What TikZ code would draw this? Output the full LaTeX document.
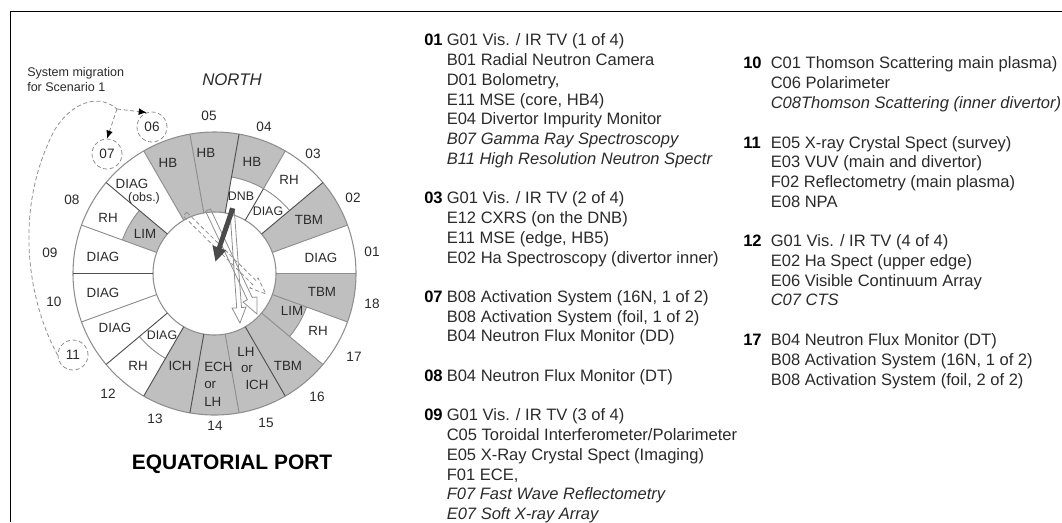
\documentclass[tikz,border=0pt]{standalone}
\usepackage{fontspec}
\setmainfont{Liberation Sans}
\usetikzlibrary{arrows.meta,calc}
\definecolor{portgrey}{HTML}{BFBFBF}
\definecolor{lineA}{HTML}{8E8E8E}
\definecolor{lineB}{HTML}{505050}
\definecolor{inktext}{HTML}{2A2A2A}
\definecolor{beamc}{HTML}{4A4A4A}
\tikzset{
  pxl/.style={x=0.75pt,y=-0.75pt},
  seclab/.style={text=inktext,inner sep=0pt,font=\fontsize{10}{12}\selectfont},
  seclabs/.style={text=inktext,inner sep=0pt,font=\fontsize{9.3}{11}\selectfont},
  numlab/.style={text=inktext,inner sep=0pt,font=\fontsize{10.2}{12}\selectfont},
  migc/.style={draw=lineA,line width=0.6pt,dash pattern=on 3pt off 2pt,circle,minimum size=22.5pt,inner sep=0pt,text=inktext,font=\fontsize{10.2}{12}\selectfont},
  migl/.style={draw=lineA,line width=0.6pt,dash pattern=on 3pt off 2pt},
  mign/.style={draw=lineA,line width=0.6pt,dash pattern=on 3pt off 2pt,-{Latex[length=6pt,width=5pt,black]}},
  listn/.style={anchor=base west,inner sep=0pt,text=black,font=\fontsize{12.4}{14}\selectfont\bfseries},
  listt/.style={anchor=base west,inner sep=0pt,text=inktext,font=\fontsize{12.4}{14}\selectfont},
  listi/.style={anchor=base west,inner sep=0pt,text=inktext,font=\fontsize{12.4}{14}\selectfont\itshape},
  spokeA/.style={draw=lineA,line width=0.7pt},
  spokeB/.style={draw=lineB,line width=0.7pt},
  ringc/.style={draw=lineA,line width=0.8pt},
  hollow/.style={draw=lineA,line width=0.6pt,line join=miter},
  hollowd/.style={draw=lineA,line width=0.6pt,dash pattern=on 3pt off 2pt},
}
\begin{document}
\begin{tikzpicture}[pxl]
\useasboundingbox (0,0) rectangle (1062,522);
\coordinate (ctr) at (214.5,273.5);
% frame
\draw[black,line width=1.4pt] (10.5,522) -- (10.5,11.5) -- (1062,11.5);
% grey sectors
\foreach \a/\b/\i/\o in {20/40/61.5/141.5,60/80/98/141.5,80/100/61.5/141.5,100/120/61.5/141.5,140/160/61.5/98,240/260/61.5/141.5,260/280/61.5/141.5,280/300/61.5/141.5,300/320/61.5/141.5,320/340/61.5/98,340/360/61.5/141.5}{
  \fill[portgrey] ($(ctr)+(\a:\o*0.75pt)$) arc[start angle=-\a,end angle=-\b,radius=\o] -- ($(ctr)+(\b:\i*0.75pt)$) arc[start angle=-\b,end angle=-\a,radius=\i] -- cycle;
}
% rings
\draw[ringc] (ctr) circle[radius=141.5];
\draw[ringc] (ctr) circle[radius=61.5];
% middle arcs
\foreach \a/\b in {40/80,140/160,220/240,320/340}{
  \draw[spokeA] ($(ctr)+(\a:98*0.75pt)$) arc[start angle=-\a,end angle=-\b,radius=98];
}
% full spokes, light and dark
\foreach \a in {0,20,100,120,160,200,280,320,340}{
  \draw[spokeA] ($(ctr)+(\a:61.5*0.75pt)$) -- ($(ctr)+(\a:141.5*0.75pt)$);
}
\foreach \a in {40,80,140,180,220,240,260,300}{
  \draw[spokeB] ($(ctr)+(\a:61.5*0.75pt)$) -- ($(ctr)+(\a:141.5*0.75pt)$);
}
% half spokes
\draw[spokeB] ($(ctr)+(60:61.5*0.75pt)$) -- ($(ctr)+(60:98*0.75pt)$);
\draw[spokeA] ($(ctr)+(60:98*0.75pt)$) -- ($(ctr)+(60:141.5*0.75pt)$);
% beams
\draw[hollowd] (186.8,212.2) -- (256.4,281) -- (258,278) -- (266,294) -- (250,288) -- (252.8,284.6) -- (183.2,215.8) -- cycle;
\draw[hollow] (210.4,208.9) -- (252.2,297.4) -- (257,297) -- (257,314) -- (243,302) -- (247.4,299.8) -- (205.6,211.2) -- cycle;
\draw[hollow] (229.8,209) -- (236.7,308) -- (232,308) -- (240,323) -- (246,307) -- (241.5,307.7) -- (234.2,209) -- cycle;
\fill[beamc] (230.3,207.5) -- (235.2,209) -- (221.5,248.5) -- (226,250.5) -- (215.5,261.5) -- (212.5,245.5) -- (217,247) -- cycle;
% sector labels
\node[seclab] (hb6) at (168,163) {HB};
\node[seclab] (hb5) at (206,153) {HB};
\node[seclab] (hb4) at (252,162) {HB};
\node[seclab] (rh3) at (289,180) {RH};
\node[seclabs] (dnb) at (241,196) {DNB};
\node[seclabs] (diag3) at (268,211) {DIAG};
\node[seclab] (tbm2) at (309,220) {TBM};
\node[seclab] (diag1) at (321,258) {DIAG};
\node[seclab] (tbm18) at (322,292) {TBM};
\node[seclab] (lim17) at (292,311) {LIM};
\node[seclab] (rh17) at (318,331) {RH};
\node[seclab] (tbm16) at (288,366) {TBM};
\node[seclab] (lh15) at (246,352) {LH};
\node[seclab] (or15) at (247,369) {or};
\node[seclab] (ich15) at (257,385) {ICH};
\node[seclab,anchor=west] (ech14) at (204,367) {ECH};
\node[seclab,anchor=west] (or14) at (204,385) {or};
\node[seclab,anchor=west] (lh14) at (204,402) {LH};
\node[seclab] (ich13) at (180,366) {ICH};
\node[seclab] (rh12) at (138,366) {RH};
\node[seclabs] (diag12) at (162,335) {DIAG};
\node[seclab] (diag11) at (115,328) {DIAG};
\node[seclab] (diag10) at (103,293) {DIAG};
\node[seclab] (diag9) at (103,257) {DIAG};
\node[seclab] (lim8) at (145,234) {LIM};
\node[seclab] (rh8) at (108,218) {RH};
\node[seclab] (diag7) at (132,184) {DIAG};
\node[seclabs] (obs7) at (144,198) {(obs.)};
% port numbers
\node[numlab] (p01) at (372,252) {01};
\node[numlab] (p02) at (353,198) {02};
\node[numlab] (p03) at (313,154) {03};
\node[numlab] (p04) at (264,127) {04};
\node[numlab] (p05) at (209,116) {05};
\node[numlab] (p08) at (72,200) {08};
\node[numlab] (p09) at (50,253) {09};
\node[numlab] (p10) at (54,302) {10};
\node[numlab] (p12) at (108,394) {12};
\node[numlab] (p13) at (155,419) {13};
\node[numlab] (p14) at (215,426) {14};
\node[numlab] (p15) at (266,423) {15};
\node[numlab] (p16) at (317,397) {16};
\node[numlab] (p17) at (354,357) {17};
\node[numlab] (p18) at (372,304) {18};
% migration
\node[migc] (n06) at (152,127) {06};
\node[migc] (n07) at (107,154) {07};
\node[migc] (n11) at (73,355) {11};
\coordinate (br) at (117,109);
\draw[migl] (n11.west) .. controls (30,305) and (12,215) .. (53,133) .. controls (66,108) and (95,90) .. (br);
\draw[mign] (br) -- (n06.110);
\draw[mign] (br) -- (n07.north);
\node[anchor=base west,inner sep=0pt,text=inktext,font=\fontsize{9.4}{11}\selectfont] (sm1) at (27,76) {System migration};
\node[anchor=base west,inner sep=0pt,text=inktext,font=\fontsize{9.4}{11}\selectfont] (sm2) at (27,91) {for Scenario 1};
\node[inner sep=0pt,text=inktext,font=\fontsize{12.6}{14}\selectfont\itshape] (north) at (232,80) {NORTH};
\node[inner sep=0pt,text=black,font=\fontsize{15.7}{18}\selectfont\bfseries] (eq) at (232,464) {EQUATORIAL PORT};
% list column 1
\node[listn] (l01) at (424,45) {01};
\node[listt] (a1) at (446.5,45) {G01 Vis. / IR TV (1 of 4)};
\node[listt] (a2) at (446.5,65) {B01 Radial Neutron Camera};
\node[listt] (a3) at (446.5,85) {D01 Bolometry,};
\node[listt] (a4) at (446.5,105) {E11 MSE (core, HB4)};
\node[listt] (a5) at (446.5,124) {E04 Divertor Impurity Monitor};
\node[listi] (a6) at (446.5,144) {B07 Gamma Ray Spectroscopy};
\node[listi] (a7) at (446.5,164) {B11 High Resolution Neutron Spectr};
\node[listn] (l03) at (424,203) {03};
\node[listt] (b1) at (446.5,203) {G01 Vis. / IR TV (2 of 4)};
\node[listt] (b2) at (446.5,223) {E12 CXRS (on the DNB)};
\node[listt] (b3) at (446.5,243) {E11 MSE (edge, HB5)};
\node[listt] (b4) at (446.5,263) {E02 Ha Spectroscopy (divertor inner)};
\node[listn] (l07) at (424,302) {07};
\node[listt] (c1) at (446.5,302) {B08 Activation System (16N, 1 of 2)};
\node[listt] (c2) at (446.5,322) {B08 Activation System (foil, 1 of 2)};
\node[listt] (c3) at (446.5,341.5) {B04 Neutron Flux Monitor (DD)};
\node[listn] (l08) at (424,381) {08};
\node[listt] (d1) at (446.5,381) {B04 Neutron Flux Monitor (DT)};
\node[listn] (l09) at (424,420) {09};
\node[listt] (e1) at (446.5,420) {G01 Vis. / IR TV (3 of 4)};
\node[listt] (e2) at (446.5,440) {C05 Toroidal Interferometer/Polarimeter};
\node[listt] (e3) at (446.5,460) {E05 X-Ray Crystal Spect (Imaging)};
\node[listt] (e4) at (446.5,480) {F01 ECE,};
\node[listi] (e5) at (446.5,499.5) {F07 Fast Wave Reflectometry};
\node[listi] (e6) at (446.5,519) {E07 Soft X-ray Array};
% list column 2
\node[listn] (l10) at (743,68) {10};
\node[listt] (f1) at (770.5,68) {C01 Thomson Scattering main plasma)};
\node[listt] (f2) at (770.5,88) {C06 Polarimeter};
\node[listi] (f3) at (770.5,108) {C08Thomson Scattering (inner divertor)};
\node[listn] (l11) at (743,148) {11};
\node[listt] (g1) at (770.5,148) {E05 X-ray Crystal Spect (survey)};
\node[listt] (g2) at (770.5,167.5) {E03 VUV (main and divertor)};
\node[listt] (g3) at (770.5,187) {F02 Reflectometry (main plasma)};
\node[listt] (g4) at (770.5,207) {E08 NPA};
\node[listn] (l12) at (743,246) {12};
\node[listt] (h1) at (770.5,246) {G01 Vis. / IR TV (4 of 4)};
\node[listt] (h2) at (770.5,266) {E02 Ha Spect (upper edge)};
\node[listt] (h3) at (770.5,286) {E06 Visible Continuum Array};
\node[listi] (h4) at (770.5,305.5) {C07 CTS};
\node[listn] (l17) at (743,345) {17};
\node[listt] (i1) at (770.5,345) {B04 Neutron Flux Monitor (DT)};
\node[listt] (i2) at (770.5,365) {B08 Activation System (16N, 1 of 2)};
\node[listt] (i3) at (770.5,385) {B08 Activation System (foil, 2 of 2)};
\end{tikzpicture}
\end{document}
